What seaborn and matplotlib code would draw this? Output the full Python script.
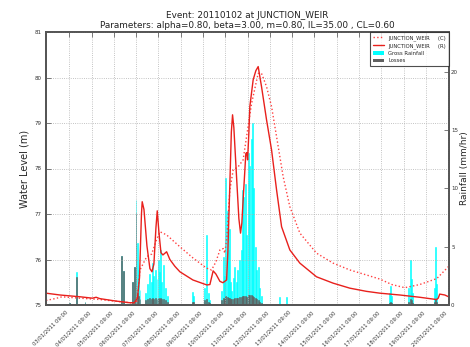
import pandas as pd
import matplotlib
matplotlib.use("Agg")
import matplotlib.pyplot as plt
import matplotlib.dates as mdates
from matplotlib.patches import Patch
from matplotlib.lines import Line2D
import seaborn as sns

# ---- event data (times in hours since the start of the event window) ----
event_start = pd.Timestamp("2011-01-02 08:00")
event_hours = 434

# Modelled water level, JUNCTION_WEIR (R)
level_r_hours = [0, 15, 37, 50, 54, 58, 74, 90, 95, 98.5, 100.7, 102.8, 103.6, 105.5,
                 108.7, 111.9, 114.1, 116.2, 118.4, 119.8, 121.6, 123.8, 125.9, 129.9,
                 133.4, 138.8, 144.2, 158.2, 173.3, 176.5, 180.0, 183.0, 187.3, 190.5,
                 194.5, 195.9, 198.0, 199.6, 200.9, 202.3, 205.2, 207.7, 209.5, 210.9,
                 212.3, 215.2, 216.3, 217.1, 218.5, 219.5, 223.1, 226.0, 228.5, 232.1,
                 237.5, 242.9, 248.3, 253.7, 262.6, 273.4, 291.3, 309.2, 327.2, 345.1,
                 359.5, 381.0, 402.5, 420.5, 422.4, 424.0, 429.4, 433.7]
level_r = [75.26, 75.22, 75.18, 75.15, 75.17, 75.14, 75.09, 75.05, 75.05, 75.15, 75.60,
           77.00, 77.27, 77.10, 76.30, 75.80, 75.73, 75.90, 76.70, 77.07, 76.60, 76.15,
           76.10, 76.17, 76.00, 75.85, 75.73, 75.55, 75.44, 75.45, 75.75, 75.68, 75.52,
           75.49, 75.55, 76.20, 77.67, 78.80, 79.18, 78.90, 77.82, 76.90, 76.58, 76.80,
           77.31, 78.33, 78.35, 78.19, 78.80, 79.36, 79.95, 80.15, 80.24, 79.80, 79.07,
           78.41, 77.53, 76.72, 76.21, 75.92, 75.62, 75.48, 75.37, 75.30, 75.26, 75.22,
           75.17, 75.12, 75.15, 75.24, 75.22, 75.18]

# Modelled water level, JUNCTION_WEIR (C)
level_c_hours = [0, 9.7, 17.2, 36.6, 58.1, 90.4, 97.6, 99.0, 101.2, 108.4, 113.8, 118.4,
                 122.7, 129.9, 144.2, 158.5, 172.9, 178.3, 183.0, 187.3, 190.8, 192.6,
                 194.8, 198.0, 201.6, 207.0, 212.3, 216.0, 221.4, 228.5, 232.1, 237.5,
                 242.9, 248.3, 255.4, 262.6, 273.4, 291.3, 309.2, 327.2, 345.1, 359.5,
                 372.4, 386.4, 402.5, 420.8, 433.7]
level_c = [75.10, 75.14, 75.18, 75.15, 75.12, 75.05, 75.05, 75.30, 75.77, 76.06, 76.12,
           76.40, 76.61, 76.54, 76.28, 76.03, 75.81, 75.77, 75.95, 76.21, 76.24, 76.14,
           76.50, 77.53, 77.97, 78.04, 78.19, 78.70, 79.43, 80.09, 80.09, 79.80, 79.36,
           78.70, 77.82, 77.16, 76.58, 76.14, 75.92, 75.77, 75.66, 75.57, 75.45, 75.38,
           75.45, 75.58, 75.85]

# Hourly rainfall (mm/hr): gross rainfall and losses
rain_hours = [25.8, 33.0, 42.0, 81.5, 83.2, 92.9, 95.0, 96.9, 98.3, 99.5, 101.2,
              107.6, 109.8, 111.9, 113.5, 114.8, 116.2, 117.8, 119.5, 120.9, 122.2,
              123.4, 124.8, 127.0, 129.1, 131.3,
              157.9, 159.3, 171.1, 172.9, 174.7, 176.5,
              189.4, 190.8, 192.1, 193.7, 195.1, 196.2, 197.3, 198.6, 200.2, 201.8,
              203.4, 205.0, 206.6, 208.8, 210.6, 211.7, 213.1, 214.9, 216.3, 217.7,
              219.5, 221.4, 222.4, 223.8, 225.5, 227.1, 228.5, 230.3, 232.5,
              251.8, 259.0,
              370.2, 371.3, 372.4, 390.7, 392.3, 393.4, 394.4, 418.6, 419.7, 420.8]
rain_gross = [0.2, 2.8, 0.3, 4.2, 2.9, 2.0, 3.3, 9.0, 5.3, 3.0, 1.3,
              1.0, 1.8, 2.7, 2.0, 3.6, 2.5, 3.0, 2.2, 3.9, 2.8,
              4.7, 2.0, 3.4, 1.5, 0.8,
              1.1, 0.8, 1.5, 6.0, 1.0, 0.4,
              1.2, 4.1, 2.5, 10.9, 8.1, 4.7, 6.5, 2.0, 1.2, 2.3,
              3.3, 2.0, 3.0, 3.9, 4.7, 9.9, 9.3, 10.4, 6.0, 13.0,
              11.9, 14.2, 15.6, 10.0, 5.0, 3.0, 3.3, 1.5, 0.8,
              0.7, 0.7,
              1.0, 1.6, 0.8, 1.5, 3.9, 2.2, 1.0, 1.5, 5.0, 1.8]
rain_losses = [0.2, 2.4, 0.3, 4.2, 2.9, 2.0, 3.3, 7.9, 1.0, 0.8, 0.5,
               0.4, 0.5, 0.6, 0.5, 0.6, 0.5, 0.6, 0.5, 0.6, 0.5,
               0.6, 0.5, 0.5, 0.4, 0.3,
               0.3, 0.3, 0.4, 0.5, 0.3, 0.2,
               0.4, 0.6, 0.5, 0.8, 0.7, 0.6, 0.6, 0.5, 0.5, 0.5,
               0.6, 0.6, 0.6, 0.7, 0.7, 0.8, 0.8, 0.8, 0.7, 0.9,
               0.9, 0.9, 0.8, 0.7, 0.6, 0.5, 0.4, 0.3, 0.2,
               0.0, 0.0,
               0.2, 0.3, 0.2, 0.3, 0.5, 0.4, 0.2, 0.3, 0.5, 0.3]

tick_dates = pd.date_range("2011-01-03 09:00", "2011-01-20 09:00", freq="D")
level_ticks = [75, 76, 77, 78, 79, 80, 81]
rain_ticks = [0, 5, 10, 15, 20]

title = ("Event: 20110102 at JUNCTION_WEIR\n"
         "Parameters: alpha=0.80, beta=3.00, m=0.80, IL=35.00 , CL=0.60")


def to_time(hours):
    return event_start + pd.to_timedelta(pd.Series(hours, dtype=float), unit="h")


sns.set_style("white")
plt.rcParams["font.family"] = ["DejaVu Sans"]

fig = plt.figure(figsize=(4.7, 3.47), dpi=100)
ax = fig.add_axes([46 / 470, 1 - 305 / 347, (449 - 46) / 470, (305 - 32) / 347])
ax2 = ax.twinx()

# rainfall bars on the secondary axis, behind the level lines
bar_w = 1.0 / 24
rain_t = to_time(rain_hours)
ax2.bar(rain_t, rain_gross, width=bar_w, color="#00ffff", edgecolor="#00ffff",
        linewidth=0.4, align="center")
ax2.bar(rain_t, rain_losses, width=bar_w, color="#606060", edgecolor="#606060",
        linewidth=0.4, align="center")
ax2.set_ylim(0, 23.4)
ax2.set_yticks(rain_ticks)
ax2.set_ylabel("Rainfall (mm/hr)", fontsize=6.5)
ax2.yaxis.set_label_coords(1.028, 0.5)

ax.set_zorder(ax2.get_zorder() + 1)
ax.patch.set_visible(False)

sns.lineplot(x=to_time(level_c_hours), y=level_c, ax=ax, color="#ff4040",
             linestyle=":", linewidth=1.0, estimator=None, sort=False)
sns.lineplot(x=to_time(level_r_hours), y=level_r, ax=ax, color="#e8201c",
             linewidth=1.0, estimator=None, sort=False)

ax.set_xlim(event_start, event_start + pd.Timedelta(hours=event_hours))
ax.set_ylim(75, 81)
ax.set_yticks(level_ticks)
ax.set_xticks(tick_dates)
ax.xaxis.set_major_formatter(mdates.DateFormatter("%d/%m/%Y %H:%M"))
ax.set_xlabel("")
ax.set_ylabel("Water Level (m)", fontsize=7, labelpad=3)
ax.set_title(title, fontsize=6.4, linespacing=1.15, pad=3, color="#222222")

ax.grid(True, color="#b0b0b0", linestyle=":", linewidth=0.6)
for a in (ax, ax2):
    for s in a.spines.values():
        s.set_color("#555555")
        s.set_linewidth(1.3)
ax.tick_params(axis="both", direction="in", length=3.5, width=0.6, color="#666666",
               labelsize=4, top=True, right=False, labelcolor="#333333")
ax2.tick_params(axis="y", direction="in", length=3.5, width=0.6, color="#666666",
                labelsize=4, pad=1.5, labelcolor="#333333")
for lab in ax.get_xticklabels():
    lab.set_rotation(45)
    lab.set_ha("right")
    lab.set_fontsize(3.8)

handles = [
    Line2D([], [], color="#ff4040", linestyle=":", linewidth=1.0),
    Line2D([], [], color="#e8201c", linewidth=1.0),
    Patch(facecolor="#00ffff", edgecolor="none"),
    Patch(facecolor="#606060", edgecolor="none"),
]
labels = ["JUNCTION_WEIR     (C)", "JUNCTION_WEIR     (R)", "Gross Rainfall", "Losses"]
leg = ax.legend(handles, labels, loc="upper right", fontsize=3.8, frameon=True,
                fancybox=False, borderaxespad=0.05, handlelength=2.2,
                labelspacing=0.45, borderpad=0.5)
leg.get_frame().set_edgecolor("#222222")
leg.get_frame().set_linewidth(0.8)

fig.savefig("out.png", dpi=100)
